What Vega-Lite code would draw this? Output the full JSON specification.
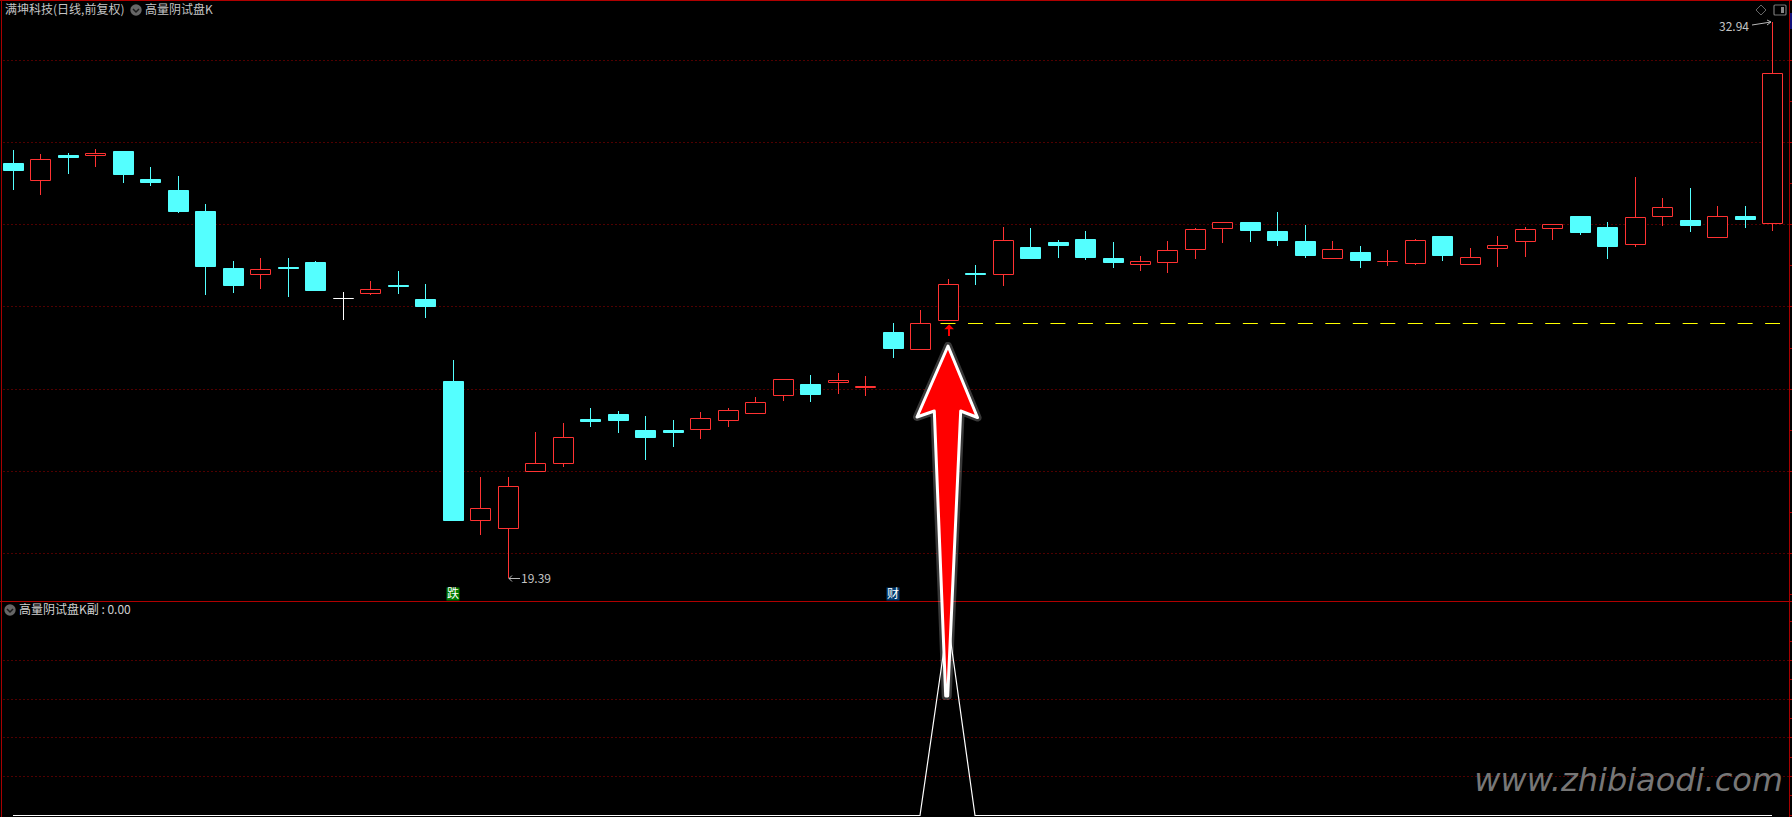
{
"$schema":"https://vega.github.io/schema/vega-lite/v6.json",
"background":"#000000","padding":0,"autosize":{"type":"none"},"width":1792,"height":817,
"config":{"view":{"stroke":null},"font":"Noto Sans CJK SC"},
"resolve":{"scale":{"y":"independent"},"axis":{"y":"independent"}},
"datasets":{
"candles":[
{"i":0,"dir":"down","o":29.50,"c":29.31,"h":29.82,"l":28.83},
{"i":1,"dir":"up","o":29.07,"c":29.59,"h":29.72,"l":28.71},
{"i":2,"dir":"down","o":29.70,"c":29.63,"h":29.75,"l":29.24},
{"i":3,"dir":"up","o":29.67,"c":29.74,"h":29.85,"l":29.39},
{"i":4,"dir":"down","o":29.80,"c":29.21,"h":29.80,"l":29.02},
{"i":5,"dir":"down","o":29.11,"c":29.02,"h":29.41,"l":28.93},
{"i":6,"dir":"down","o":28.85,"c":28.31,"h":29.19,"l":28.29},
{"i":7,"dir":"down","o":28.33,"c":26.97,"h":28.50,"l":26.29},
{"i":8,"dir":"down","o":26.95,"c":26.51,"h":27.12,"l":26.34},
{"i":9,"dir":"up","o":26.77,"c":26.91,"h":27.19,"l":26.43},
{"i":10,"dir":"down","o":26.95,"c":26.93,"h":27.19,"l":26.24},
{"i":11,"dir":"down","o":27.09,"c":26.38,"h":27.12,"l":26.38},
{"i":12,"dir":"flat","o":26.20,"c":26.18,"h":26.36,"l":25.68},
{"i":13,"dir":"up","o":26.30,"c":26.43,"h":26.63,"l":26.27},
{"i":14,"dir":"down","o":26.51,"c":26.49,"h":26.87,"l":26.31},
{"i":15,"dir":"down","o":26.19,"c":25.98,"h":26.56,"l":25.71},
{"i":16,"dir":"down","o":24.19,"c":20.78,"h":24.70,"l":20.78},
{"i":17,"dir":"up","o":20.76,"c":21.09,"h":21.85,"l":20.42},
{"i":18,"dir":"up","o":20.57,"c":21.62,"h":21.85,"l":19.39},
{"i":19,"dir":"up","o":21.96,"c":22.19,"h":22.95,"l":21.96},
{"i":20,"dir":"up","o":22.15,"c":22.82,"h":23.17,"l":22.10},
{"i":21,"dir":"down","o":23.27,"c":23.19,"h":23.53,"l":23.07},
{"i":22,"dir":"down","o":23.39,"c":23.22,"h":23.46,"l":22.92},
{"i":23,"dir":"down","o":23.00,"c":22.80,"h":23.34,"l":22.27},
{"i":24,"dir":"down","o":23.00,"c":22.92,"h":23.24,"l":22.58},
{"i":25,"dir":"up","o":22.98,"c":23.28,"h":23.44,"l":22.78},
{"i":26,"dir":"up","o":23.20,"c":23.48,"h":23.53,"l":23.07},
{"i":27,"dir":"up","o":23.37,"c":23.67,"h":23.80,"l":23.37},
{"i":28,"dir":"up","o":23.83,"c":24.23,"h":24.23,"l":23.70},
{"i":29,"dir":"down","o":24.12,"c":23.85,"h":24.34,"l":23.66},
{"i":30,"dir":"up","o":24.13,"c":24.21,"h":24.39,"l":23.87},
{"i":31,"dir":"up","o":24.01,"c":24.06,"h":24.31,"l":23.83},
{"i":32,"dir":"down","o":25.39,"c":24.97,"h":25.60,"l":24.75},
{"i":33,"dir":"up","o":24.95,"c":25.60,"h":25.92,"l":24.95},
{"i":34,"dir":"up","o":25.64,"c":26.55,"h":26.68,"l":25.64},
{"i":35,"dir":"down","o":26.82,"c":26.77,"h":27.02,"l":26.53},
{"i":36,"dir":"up","o":26.76,"c":27.62,"h":27.94,"l":26.51},
{"i":37,"dir":"down","o":27.46,"c":27.16,"h":27.92,"l":27.16},
{"i":38,"dir":"down","o":27.58,"c":27.48,"h":27.63,"l":27.19},
{"i":39,"dir":"down","o":27.65,"c":27.19,"h":27.85,"l":27.14},
{"i":40,"dir":"down","o":27.19,"c":27.07,"h":27.58,"l":26.95},
{"i":41,"dir":"up","o":27.01,"c":27.11,"h":27.24,"l":26.87},
{"i":42,"dir":"up","o":27.05,"c":27.38,"h":27.60,"l":26.82},
{"i":43,"dir":"up","o":27.37,"c":27.89,"h":27.92,"l":27.16},
{"i":44,"dir":"up","o":27.88,"c":28.06,"h":28.07,"l":27.55},
{"i":45,"dir":"down","o":28.07,"c":27.85,"h":28.07,"l":27.58},
{"i":46,"dir":"down","o":27.85,"c":27.60,"h":28.31,"l":27.48},
{"i":47,"dir":"down","o":27.60,"c":27.24,"h":27.99,"l":27.19},
{"i":48,"dir":"up","o":27.15,"c":27.40,"h":27.60,"l":27.15},
{"i":49,"dir":"down","o":27.33,"c":27.12,"h":27.48,"l":26.95},
{"i":50,"dir":"up","o":27.09,"c":27.12,"h":27.38,"l":26.99},
{"i":51,"dir":"up","o":27.03,"c":27.62,"h":27.65,"l":27.02},
{"i":52,"dir":"down","o":27.72,"c":27.24,"h":27.72,"l":27.12},
{"i":53,"dir":"up","o":27.00,"c":27.21,"h":27.43,"l":27.00},
{"i":54,"dir":"up","o":27.40,"c":27.50,"h":27.72,"l":26.97},
{"i":55,"dir":"up","o":27.56,"c":27.89,"h":27.94,"l":27.21},
{"i":56,"dir":"up","o":27.88,"c":28.01,"h":28.01,"l":27.63},
{"i":57,"dir":"down","o":28.21,"c":27.80,"h":28.21,"l":27.75},
{"i":58,"dir":"down","o":27.94,"c":27.46,"h":28.07,"l":27.16},
{"i":59,"dir":"up","o":27.51,"c":28.18,"h":29.16,"l":27.46},
{"i":60,"dir":"up","o":28.17,"c":28.42,"h":28.65,"l":27.97},
{"i":61,"dir":"down","o":28.11,"c":27.97,"h":28.89,"l":27.82},
{"i":62,"dir":"up","o":27.68,"c":28.20,"h":28.46,"l":27.68},
{"i":63,"dir":"down","o":28.21,"c":28.11,"h":28.46,"l":27.92},
{"i":64,"dir":"up","o":28.00,"c":31.69,"h":32.94,"l":27.85}
],
"indicator":[
{"i":0,"v":0},{"i":1,"v":0},{"i":2,"v":0},{"i":3,"v":0},{"i":4,"v":0},{"i":5,"v":0},{"i":6,"v":0},{"i":7,"v":0},{"i":8,"v":0},{"i":9,"v":0},{"i":10,"v":0},{"i":11,"v":0},{"i":12,"v":0},{"i":13,"v":0},{"i":14,"v":0},{"i":15,"v":0},{"i":16,"v":0},{"i":17,"v":0},{"i":18,"v":0},{"i":19,"v":0},{"i":20,"v":0},{"i":21,"v":0},{"i":22,"v":0},{"i":23,"v":0},{"i":24,"v":0},{"i":25,"v":0},{"i":26,"v":0},{"i":27,"v":0},{"i":28,"v":0},{"i":29,"v":0},{"i":30,"v":0},{"i":31,"v":0},{"i":32,"v":0},{"i":33,"v":0},{"i":34,"v":1},{"i":35,"v":0},{"i":36,"v":0},{"i":37,"v":0},{"i":38,"v":0},{"i":39,"v":0},{"i":40,"v":0},{"i":41,"v":0},{"i":42,"v":0},{"i":43,"v":0},{"i":44,"v":0},{"i":45,"v":0},{"i":46,"v":0},{"i":47,"v":0},{"i":48,"v":0},{"i":49,"v":0},{"i":50,"v":0},{"i":51,"v":0},{"i":52,"v":0},{"i":53,"v":0},{"i":54,"v":0},{"i":55,"v":0},{"i":56,"v":0},{"i":57,"v":0},{"i":58,"v":0},{"i":59,"v":0},{"i":60,"v":0},{"i":61,"v":0},{"i":62,"v":0},{"i":63,"v":0},{"i":64,"v":0}
]
},
"encoding":{
"x":{"field":"i","type":"quantitative","axis":null,"scale":{"domain":[-0.47293,64.7191],"nice":false,"zero":false,"padding":0,"round":true}}
},
"layer":[
{
"resolve":{"axis":{"y":"independent"}},
"encoding":{
"y":{"field":"price","type":"quantitative","axis":null,"scale":{"domain":[18.822,33.47],"range":[601,0],"nice":false,"zero":false,"round":true}}
},
"layer":[
{"data":{"values":[{"i":0,"price":20}]},"mark":{"type":"rule","opacity":0},
"encoding":{"y":{"field":"price","type":"quantitative",
"axis":{"orient":"right","offset":-3,"values":[19,20,21,22,23,24,25,26,27,28,29,30,31,32,33],"labels":false,"title":null,"domain":true,"domainColor":"#a80000","ticks":true,"tickColor":"#a80000","tickSize":3,"grid":true,"gridColor":"#a00000","gridDash":[1,3],"gridOpacity":{"condition":{"test":"datum.value%2==0","value":1},"value":0}}}}},
{"data":{"values":[{"x0":32.74,"x1":64.28,"price":25.60}]},"mark":{"type":"rule","color":"#ffff00","strokeDash":[15,12.488],"strokeWidth":1,"yOffset":0.5},
"encoding":{"x":{"field":"x0","type":"quantitative"},"x2":{"field":"x1"}}},
{"data":{"name":"candles"},"mark":{"type":"rule","strokeWidth":1,"xOffset":0.5},
"encoding":{"y":{"field":"h","type":"quantitative"},"y2":{"field":"l"},
"color":{"field":"dir","type":"nominal","legend":null,"scale":{"domain":["up","down","flat"],"range":["#ff3232","#54ffff","#ffffff"]}}}},
{"data":{"name":"candles"},"transform":[{"filter":"datum.dir!='up'"}],"mark":{"type":"bar","size":20,"strokeWidth":1,"xOffset":0.5,"yOffset":0.5,"y2Offset":-0.5},
"encoding":{"y":{"field":"o","type":"quantitative"},"y2":{"field":"c"},
"fill":{"field":"dir","type":"nominal","legend":null,"scale":{"domain":["up","down","flat"],"range":["#000000","#54ffff","#ffffff"]}},
"stroke":{"field":"dir","type":"nominal","legend":null,"scale":{"domain":["up","down","flat"],"range":["#ff3232","#54ffff","#ffffff"]}}}},
{"data":{"name":"candles"},"transform":[{"filter":"datum.dir=='up'"}],"mark":{"type":"bar","size":20,"strokeWidth":1,"xOffset":0.5,"yOffset":0.5,"y2Offset":-0.5},
"encoding":{"y":{"field":"c","type":"quantitative"},"y2":{"field":"o"},
"fill":{"field":"dir","type":"nominal","legend":null,"scale":{"domain":["up","down","flat"],"range":["#000000","#54ffff","#ffffff"]}},
"stroke":{"field":"dir","type":"nominal","legend":null,"scale":{"domain":["up","down","flat"],"range":["#ff3232","#54ffff","#ffffff"]}}}},
{"data":{"values":[{"i":34,"price":25.43}]},"mark":{"type":"point","filled":true,"opacity":1,"size":4,"color":"#ff0000","shape":"M1.1,-5.7L6,-0.7L2,-0.7L2,6L0,6L0,-0.7L-3.7,-0.7Z"}},
{"data":{"values":[{"i":18,"price":19.39}]},"mark":{"type":"point","filled":false,"opacity":1,"size":4,"stroke":"#b8b8b8","strokeWidth":1,"shape":"M1,0.5L12,0.5M1,0.5L4,-2.5M1,0.5L4,3.5"}},
{"data":{"values":[{"i":64,"price":32.94}]},"mark":{"type":"point","filled":false,"opacity":1,"size":4,"stroke":"#b8b8b8","strokeWidth":1,"shape":"M-20,3L-1,0M-1,0L-5,-2M-1,0L-5,3"}},
{"data":{"values":[{"i":4.475,"price":33.23}]},"mark":{"type":"circle","size":130,"color":"#666666","opacity":1}},
{"data":{"values":[{"i":4.475,"price":33.23}]},"mark":{"type":"point","filled":false,"opacity":1,"size":4,"stroke":"#1a1a1a","strokeWidth":1.5,"shape":"M-3,-1L0,2L3,-1"}},
{"data":{"values":[{"i":63.6,"price":33.22}]},"mark":{"type":"point","filled":false,"opacity":1,"size":4,"stroke":"#666666","strokeWidth":1,"shape":"M0,-5L5,0L0,5L-5,0Z"}},
{"data":{"values":[{"i":64.28,"price":33.23}]},"mark":{"type":"point","filled":false,"opacity":1,"size":4,"stroke":"#777777","strokeWidth":1.2,"shape":"M-5,-5L5,-5Q6,-5 6,-4L6,4Q6,5 5,5L-5,5Q-6,5 -6,4L-6,-4Q-6,-5 -5,-5Z"}},
{"data":{"values":[{"i":64.28,"price":33.23}]},"mark":{"type":"point","filled":true,"opacity":1,"size":4,"color":"#888888","shape":"M1,-3L4,-3L4,3L1,3Z"}},
{"data":{"values":[{"i":64.63,"price":32.97}]},"mark":{"type":"point","filled":true,"opacity":1,"size":4,"color":"#10107a","shape":"M0,-8L3,-8L3,8L0,8Z"}},
{"data":{"values":[{"i":16,"price":19.0}]},"mark":{"type":"square","size":169,"opacity":1,"color":"#007a00"}},
{"data":{"values":[{"i":32,"price":19.0}]},"mark":{"type":"square","size":169,"opacity":1,"color":"#003a70"}},
{"data":{"values":[{"i":16,"price":19.0,"t":"跌"},{"i":32,"price":19.0,"t":"财"}]},"mark":{"type":"text","fontSize":12,"color":"#ffffff","align":"center","baseline":"middle"},
"encoding":{"text":{"field":"t"}}},
{"data":{"values":[{"i":-0.291,"price":33.23,"t":"满坤科技(日线,前复权)"},{"i":4.81,"price":33.23,"t":"高量阴试盘K"},{"i":18.48,"price":19.36,"t":"19.39"}]},"mark":{"type":"text","fontSize":12,"color":"#c4c4c4","align":"left","baseline":"middle"},
"encoding":{"text":{"field":"t"}}},
{"data":{"values":[{"i":63.15,"price":32.82,"t":"32.94"}]},"mark":{"type":"text","fontSize":12,"color":"#c4c4c4","align":"right","baseline":"middle"},
"encoding":{"text":{"field":"t"}}},
{"data":{"values":[{"price":33.47}]},"mark":{"type":"rule","color":"#b00000","strokeWidth":1,"yOffset":0.5},"encoding":{"x":{"value":0},"x2":{"value":1792}}},
{"data":{"values":[{"i":-0.44}]},"mark":{"type":"rule","color":"#a80000","strokeWidth":1,"xOffset":0.5},"encoding":{"y":{"value":0},"y2":{"value":817}}}
]},
{
"resolve":{"axis":{"y":"independent"}},
"encoding":{
"y":{"field":"v","type":"quantitative","axis":null,"scale":{"domain":[-0.011375,1.105481],"range":[817,601],"nice":false,"zero":false,"round":true}}
},
"layer":[
{"data":{"values":[{"i":0,"v":0.5}]},"mark":{"type":"rule","opacity":0},
"encoding":{"y":{"field":"v","type":"quantitative",
"axis":{"orient":"right","offset":-3,"values":[0,0.1,0.2,0.3,0.4,0.5,0.6,0.7,0.8,0.9,1],"labels":false,"title":null,"domain":true,"domainColor":"#a80000","ticks":true,"tickColor":"#a80000","tickSize":3,"grid":true,"gridColor":"#a00000","gridDash":[1,3],"gridOpacity":{"condition":{"test":"datum.value==0.2||datum.value==0.4||datum.value==0.6||datum.value==0.8","value":1},"value":0}}}}},
{"data":{"name":"indicator"},"mark":{"type":"line","color":"#ffffff","strokeWidth":1.2,"yOffset":0.5}},
{"data":{"values":[{"i":64.39,"v":0.176,"t":"www.zhibiaodi.com"}]},"mark":{"type":"text","font":"DejaVu Sans","fontSize":32,"fontStyle":"italic","color":"#777777","align":"right","baseline":"middle"},
"encoding":{"text":{"field":"t"}}},
{"data":{"values":[{"i":-0.11,"v":1.057}]},"mark":{"type":"circle","size":130,"color":"#666666","opacity":1}},
{"data":{"values":[{"i":-0.11,"v":1.057}]},"mark":{"type":"point","filled":false,"opacity":1,"size":4,"stroke":"#1a1a1a","strokeWidth":1.5,"shape":"M-3,-1L0,2L3,-1"}},
{"data":{"values":[{"i":0.218,"v":1.057,"t":"高量阴试盘K副 : 0.00"}]},"mark":{"type":"text","fontSize":12,"color":"#d0d0d0","align":"left","baseline":"middle"},
"encoding":{"text":{"field":"t"}}},
{"data":{"values":[{"v":1.105481}]},"mark":{"type":"rule","color":"#b00000","strokeWidth":1,"yOffset":0.5},"encoding":{"x":{"value":0},"x2":{"value":1792}}},
{"data":{"values":[{"i":34,"v":1}]},"mark":{"type":"point","filled":false,"opacity":0.22,"size":4,"stroke":"#ffffff","strokeWidth":8,"strokeJoin":"round","shape":"M0,-275L29.5,-203.5L12.7,-210L-0.3,75L-2.3,75L-13.7,-210L-31,-204Z"}},
{"data":{"values":[{"i":34,"v":1}]},"mark":{"type":"point","filled":true,"opacity":1,"size":4,"fill":"#ff0000","stroke":"#ffffff","strokeWidth":3,"strokeJoin":"round","shape":"M0,-275L29.5,-203.5L12.7,-210L-0.3,75L-2.3,75L-13.7,-210L-31,-204Z"}}
]}
]}
